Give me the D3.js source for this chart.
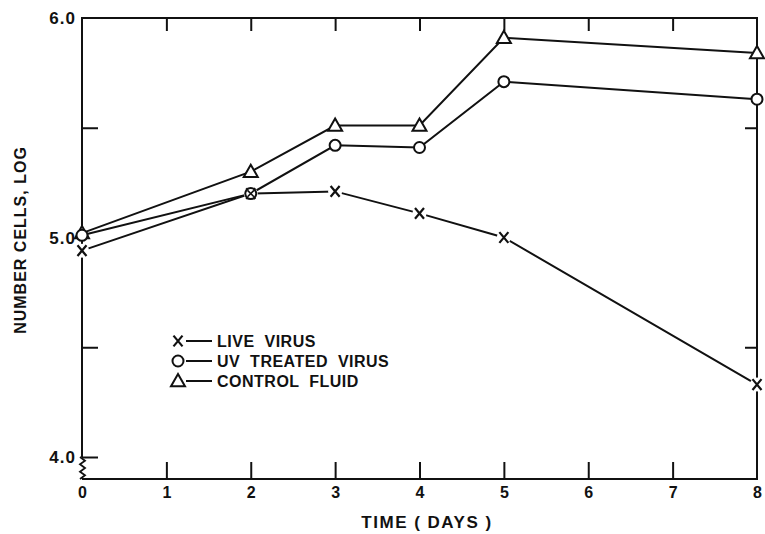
<!DOCTYPE html>
<html>
<head>
<meta charset="utf-8">
<script src="https://cdn.jsdelivr.net/npm/d3@7"></script>
<style>
  body { margin: 0; background: #fff; }
  text { font-family: "Liberation Sans", Arial, sans-serif; font-weight: bold; fill: #111; }
</style>
</head>
<body>
<div id="chart"></div>
<script>
  // data (log cell number vs. days)
  const days = [0, 2, 3, 4, 5, 8];
  const liveVirus = [4.94, 5.20, 5.21, 5.11, 5.00, 4.33];
  const uvTreated = [5.01, 5.20, 5.42, 5.41, 5.71, 5.63];
  const controlFluid = [5.02, 5.30, 5.51, 5.51, 5.91, 5.84];
  const xTicks = [0, 1, 2, 3, 4, 5, 6, 7, 8];
  const yLabels = [4.0, 5.0, 6.0];
  const yMinor = [4.5, 5.5];

  const width = 765, height = 534;
  const frame = { left: 82, right: 757, top: 18, bottom: 479 };

  const x = d3.scaleLinear().domain([0, 8]).range([frame.left, frame.right]);
  const y = d3.scaleLinear().domain([4, 6]).range([457, frame.top]);

  const svg = d3.select("#chart").append("svg")
    .attr("width", width)
    .attr("height", height);

  const ink = "#111";

  // frame (left side drawn separately because of the axis break)
  const fr = svg.append("g").attr("fill", "none").attr("stroke", ink).attr("stroke-width", 2);
  fr.append("path").attr("d", `M${frame.left},${y(4)} L${frame.left},${frame.top} L${frame.right},${frame.top} L${frame.right},${frame.bottom} L${frame.left},${frame.bottom}`);
  // zigzag break between 4.0 and the bottom axis
  const zz = d3.range(0, 7).map(i => [frame.left + (i % 2 ? 3 : -2), y(4) + i * (frame.bottom - y(4)) / 6]);
  fr.append("path").attr("d", d3.line()(zz)).attr("stroke-width", 1.8);

  // bottom axis: ticks pointing up, labels below
  const axBottom = d3.axisBottom(x).tickValues(xTicks).tickSize(-17).tickPadding(4).tickFormat(d3.format("d"));
  svg.append("g").attr("transform", `translate(0,${frame.bottom})`).call(axBottom)
    .call(g => g.select(".domain").remove())
    .call(g => g.selectAll("line").attr("stroke", ink).attr("stroke-width", 2))
    .call(g => g.selectAll("line").filter(d => d === 0 || d === 8).remove())
    .call(g => g.selectAll("text").style("font-size", "16px").attr("dy", "0.95em"));

  // top axis: ticks pointing down, no labels
  const axTop = d3.axisTop(x).tickValues(xTicks.slice(1, -1)).tickSize(-13).tickFormat("");
  svg.append("g").attr("transform", `translate(0,${frame.top})`).call(axTop)
    .call(g => g.select(".domain").remove())
    .call(g => g.selectAll("line").attr("stroke", ink).attr("stroke-width", 2));

  // left axis: labels at 4.0 / 5.0 / 6.0
  const axLeft = d3.axisLeft(y).tickValues(yLabels).tickSize(0).tickPadding(6).tickFormat(d3.format(".1f"));
  svg.append("g").attr("transform", `translate(${frame.left},0)`).call(axLeft)
    .call(g => g.select(".domain").remove())
    .call(g => g.selectAll("text").style("font-size", "17px").attr("letter-spacing", 1).attr("dy", "0.35em"));
  // left axis: ticks pointing in
  const axLeftIn = d3.axisRight(y).tickValues(yMinor.concat([4])).tickSize(16).tickFormat("");
  svg.append("g").attr("transform", `translate(${frame.left},0)`).call(axLeftIn)
    .call(g => g.select(".domain").remove())
    .call(g => g.selectAll("line").attr("stroke", ink).attr("stroke-width", 2));

  // right axis: ticks pointing in
  const axRightIn = d3.axisLeft(y).tickValues(yMinor).tickSize(12).tickFormat("");
  svg.append("g").attr("transform", `translate(${frame.right},0)`).call(axRightIn)
    .call(g => g.select(".domain").remove())
    .call(g => g.selectAll("line").attr("stroke", ink).attr("stroke-width", 2));

  // axis titles
  svg.append("text")
    .attr("x", 427).attr("y", 528)
    .attr("text-anchor", "middle")
    .style("font-size", "17px")
    .attr("letter-spacing", 1.5)
    .text("TIME ( DAYS )");
  svg.append("text")
    .attr("transform", "translate(26,240) rotate(-90)")
    .attr("text-anchor", "middle")
    .style("font-size", "16px")
    .attr("letter-spacing", 1)
    .text("NUMBER CELLS, LOG");

  // series
  const series = [
    { name: "LIVE  VIRUS", values: liveVirus, marker: "x" },
    { name: "UV  TREATED  VIRUS", values: uvTreated, marker: "o" },
    { name: "CONTROL  FLUID", values: controlFluid, marker: "t" }
  ];

  const line = d3.line().x(d => x(d[0])).y(d => y(d[1]));

  svg.append("g").attr("fill", "none").attr("stroke", ink).attr("stroke-width", 2)
    .selectAll("path").data(series).join("path")
    .attr("d", s => line(days.map((d, i) => [d, s.values[i]])));

  function drawMarker(g, type, cx, cy, knockout) {
    if (type === "o") {
      g.append("circle").attr("cx", cx).attr("cy", cy).attr("r", 5.5)
        .attr("fill", "#fff").attr("stroke", ink).attr("stroke-width", 2);
    } else if (type === "t") {
      const s = 7;
      g.append("path")
        .attr("d", `M${cx},${cy - s} L${cx + s},${cy + s * 0.75} L${cx - s},${cy + s * 0.75} Z`)
        .attr("fill", "#fff").attr("stroke", ink).attr("stroke-width", 2);
    } else {
      if (knockout) g.append("circle").attr("cx", cx).attr("cy", cy).attr("r", 7).attr("fill", "#fff");
      const s = 4.5;
      g.append("path")
        .attr("d", `M${cx - s},${cy - s * 1.2} L${cx + s},${cy + s * 1.2} M${cx + s},${cy - s * 1.2} L${cx - s},${cy + s * 1.2}`)
        .attr("stroke", ink).attr("stroke-width", 2.2).attr("fill", "none");
    }
  }

  const marks = svg.append("g");
  ["x", "t", "o"].forEach(type => {
    const s = series.find(d => d.marker === type);
    days.forEach((d, i) => drawMarker(marks, type, x(d), y(s.values[i]), true));
  });
  // the crossed circle at day 2 (live virus coincides with UV)
  const s2 = 3.2, cx2 = x(days[1]), cy2 = y(liveVirus[1]);
  marks.append("path")
    .attr("d", `M${cx2 - s2},${cy2 - s2} L${cx2 + s2},${cy2 + s2} M${cx2 + s2},${cy2 - s2} L${cx2 - s2},${cy2 + s2}`)
    .attr("stroke", ink).attr("stroke-width", 1.6);

  // legend
  const legend = svg.append("g").attr("transform", "translate(178,341)");
  series.forEach((s, i) => {
    const g = legend.append("g").attr("transform", `translate(0,${i * 20})`);
    drawMarker(g, s.marker, 0, 0, false);
    g.append("line").attr("x1", 8).attr("x2", 34).attr("y1", 0).attr("y2", 0)
      .attr("stroke", ink).attr("stroke-width", 2);
    g.append("text").attr("x", 39).attr("y", 0).attr("dy", "0.36em")
      .style("font-size", "16px").attr("letter-spacing", 0.5)
      .style("white-space", "pre")
      .text(s.name);
  });
</script>
</body>
</html>
